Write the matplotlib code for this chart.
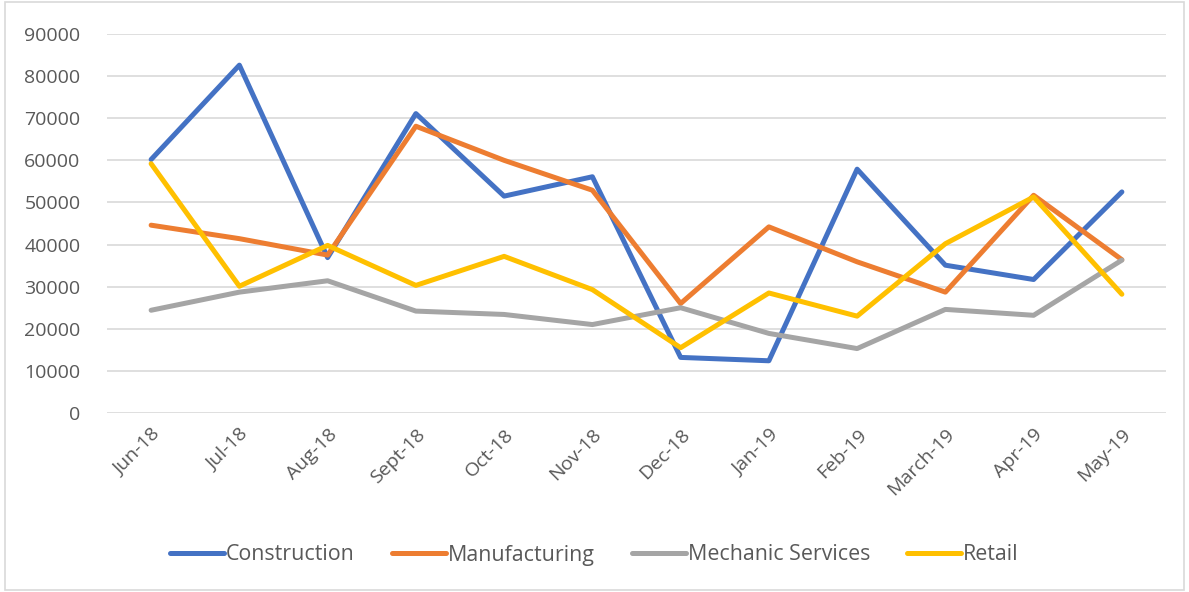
import matplotlib
matplotlib.use("Agg")
import matplotlib.pyplot as plt
from matplotlib.patches import Rectangle

months = ["Jun-18", "Jul-18", "Aug-18", "Sept-18", "Oct-18", "Nov-18",
          "Dec-18", "Jan-19", "Feb-19", "March-19", "Apr-19", "May-19"]
construction = [60200, 82600, 36900, 71100, 51500, 56100, 13200, 12400, 57900, 35100, 31700, 52500]
manufacturing = [44600, 41400, 37500, 68100, 60000, 52900, 26000, 44200, 35900, 28700, 51700, 36400]
mechanic = [24400, 28700, 31400, 24200, 23400, 21000, 25000, 18900, 15300, 24600, 23200, 36300]
retail = [59200, 30100, 39800, 30300, 37200, 29300, 15500, 28500, 23000, 40200, 51300, 28200]

series_names = ["Construction", "Manufacturing", "Mechanic Services", "Retail"]
series_vals = [construction, manufacturing, mechanic, retail]
colors = ["#4472C4", "#ED7D31", "#A5A5A5", "#FFC000"]
yticks = list(range(0, 90001, 10000))

plt.rcParams['font.family'] = ['Open Sans', 'DejaVu Sans']

fig = plt.figure(figsize=(11.89, 5.92), dpi=100)
ax = fig.add_axes([107/1189, 1 - 413/592, (1166-107)/1189, (413-34)/592])

x = list(range(len(months)))
for name, vals, c in zip(series_names, series_vals, colors):
    ax.plot(x, vals, color=c, lw=3.6, solid_capstyle='round',
            solid_joinstyle='round', label=name)

ax.set_xlim(-0.5, len(months) - 0.5)
ax.set_ylim(0, 90000)
ax.set_yticks(yticks)
ax.set_yticklabels([str(v) for v in yticks], fontsize=14, color="#595959")
ax.set_xticks(x)
ax.set_xticklabels(months, rotation=45, ha='right', rotation_mode='anchor',
                   fontsize=14, color="#595959")
ax.tick_params(axis='y', length=0, pad=19)
ax.tick_params(axis='x', length=0, pad=9)
ax.grid(axis='y', color="#D9D9D9", lw=1.2)
ax.set_axisbelow(True)
for s in ax.spines.values():
    s.set_visible(False)

fig.legend(loc='center', bbox_to_anchor=(0.5, 1 - 555/592), ncol=4,
           frameon=False, fontsize=15.4, handlelength=2.5, handletextpad=0.1,
           columnspacing=1.75, labelcolor="#595959")

fig.patches.append(Rectangle((0.004, 0.003), 0.992, 0.994, transform=fig.transFigure,
                             fill=False, edgecolor="#D9D9D9", lw=1.2))

fig.savefig("out.png", dpi=100)
